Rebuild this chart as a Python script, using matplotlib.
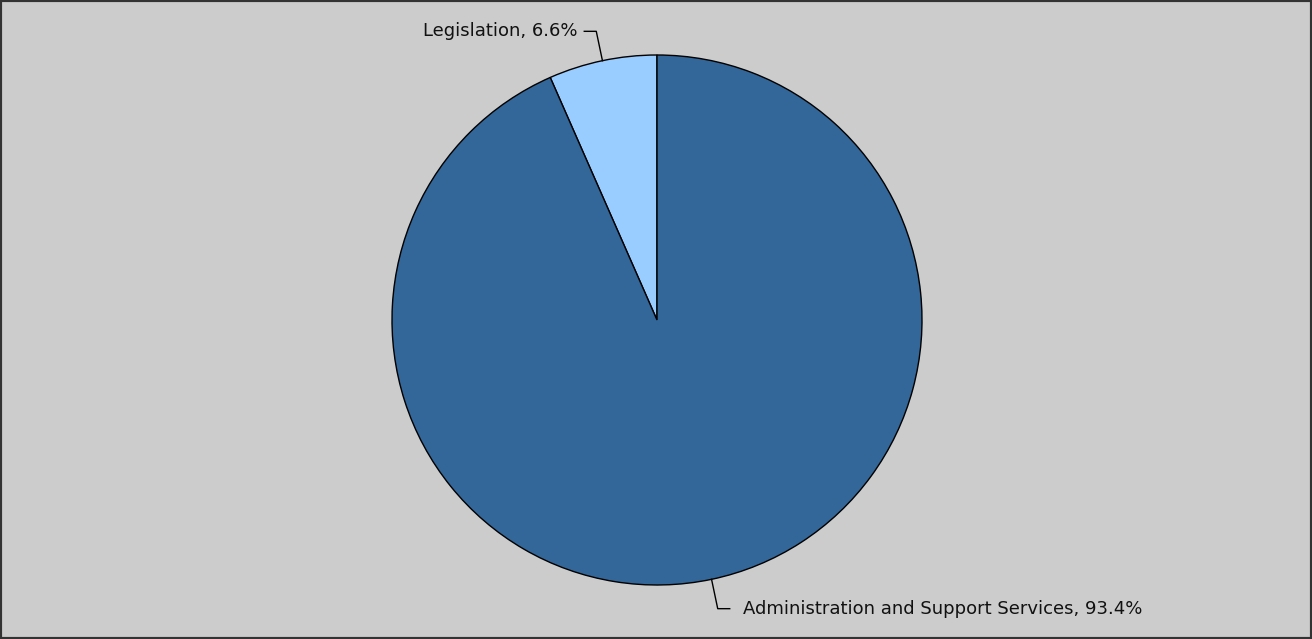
import numpy as np
import matplotlib.pyplot as plt

labels = ["Legislation", "Administration and Support Services"]
shares = [6.6, 93.4]
colors = ["#99ccff", "#336699"]

W, H = 1312, 639
fig = plt.figure(figsize=(W / 100, H / 100), dpi=100)
fig.patch.set_facecolor("#cccccc")
ax = fig.add_axes([0, 0, 1, 1])

cx, cy, r = 657, H - 320, 265
wedges, _ = ax.pie(shares, colors=colors, startangle=90, counterclock=True,
                   center=(cx, cy), radius=r, frame=True,
                   wedgeprops=dict(edgecolor="black", linewidth=1))
ax.set_xlim(0, W)
ax.set_ylim(0, H)
ax.set_aspect("equal")
ax.axis("off")

for w, lab, val in zip(wedges, labels, shares):
    a = np.deg2rad((w.theta1 + w.theta2) / 2)
    x0, y0 = cx + r * np.cos(a), cy + r * np.sin(a)
    x1, y1 = cx + (r + 30) * np.cos(a), cy + (r + 30) * np.sin(a)
    side = 1 if np.cos(a) >= 0 else -1
    x2 = x1 + side * 12
    ax.plot([x0, x1, x2], [y0, y1, y1], color="black", lw=1)
    ax.text(x2 + side * (13 if side > 0 else 7), y1, f"{lab}, {val}%",
            ha="left" if side > 0 else "right",
            va="center", fontsize=13, color="#111111")

# outer border
fig.patches.append(plt.Rectangle((0, 0), 1, 1, transform=fig.transFigure,
                                 fill=False, edgecolor="#333333", linewidth=3))

fig.savefig("out.png", dpi=100, facecolor=fig.get_facecolor())
